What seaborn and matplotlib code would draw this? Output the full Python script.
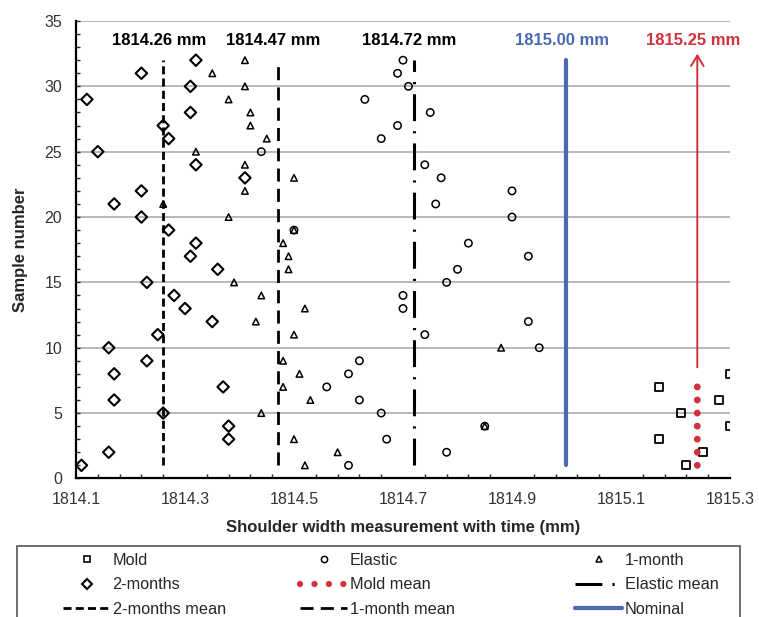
import numpy as np
import pandas as pd
import matplotlib
matplotlib.use("Agg")
import matplotlib.pyplot as plt
import seaborn as sns
from matplotlib.lines import Line2D
from matplotlib.patches import Rectangle
from matplotlib.ticker import FixedLocator, MultipleLocator, FormatStrFormatter

# data
sample_no = [1, 2, 3, 4, 5, 6, 7, 8, 9, 10, 11, 12, 13, 14, 15, 16,
             17, 18, 19, 20, 21, 22, 23, 24, 25, 26, 27, 28, 29, 30, 31, 32]
mold_samples = [1, 2, 3, 4, 5, 6, 7, 8]
mold = [1815.22, 1815.25, 1815.17, 1815.30, 1815.21, 1815.28, 1815.17, 1815.30]
elastic = [1814.60, 1814.78, 1814.67, 1814.85, 1814.66, 1814.62, 1814.56, 1814.60,
           1814.62, 1814.95, 1814.74, 1814.93, 1814.70, 1814.70, 1814.78, 1814.80,
           1814.93, 1814.82, 1814.50, 1814.90, 1814.76, 1814.90, 1814.77, 1814.74,
           1814.44, 1814.66, 1814.69, 1814.75, 1814.63, 1814.71, 1814.69, 1814.70]
one_month = [1814.52, 1814.58, 1814.50, 1814.85, 1814.44, 1814.53, 1814.48, 1814.51,
             1814.48, 1814.88, 1814.50, 1814.43, 1814.52, 1814.44, 1814.39, 1814.49,
             1814.49, 1814.48, 1814.50, 1814.38, 1814.26, 1814.41, 1814.50, 1814.41,
             1814.32, 1814.45, 1814.42, 1814.42, 1814.38, 1814.41, 1814.35, 1814.41]
two_months = [1814.11, 1814.16, 1814.38, 1814.38, 1814.26, 1814.17, 1814.37, 1814.17,
              1814.23, 1814.16, 1814.25, 1814.35, 1814.30, 1814.28, 1814.23, 1814.36,
              1814.31, 1814.32, 1814.27, 1814.22, 1814.17, 1814.22, 1814.41, 1814.32,
              1814.14, 1814.27, 1814.26, 1814.31, 1814.12, 1814.31, 1814.22, 1814.32]

two_months_mean = 1814.26
one_month_mean = 1814.47
elastic_mean = 1814.72
nominal = 1815.00
mold_mean = 1815.24
mold_mean_samples = [1, 2, 3, 4, 5, 6, 7]
line_span = [1, 32]
arrow_span = [8.5, 32.5]

x_ticks = [1814.1, 1814.3, 1814.5, 1814.7, 1814.9, 1815.1, 1815.3]
top_labels = ["1814.26 mm", "1814.47 mm", "1814.72 mm", "1815.00 mm", "1815.25 mm"]
top_label_x = [two_months_mean, one_month_mean, elastic_mean, nominal, mold_mean]

BLUE = "#4b69b3"
RED = "#d2303a"

sns.set_theme(style="white")
plt.rcParams["font.family"] = ["Liberation Sans", "DejaVu Sans"]

fig = plt.figure(figsize=(7.59, 6.17), dpi=100)
W, H = 759, 617
ax = fig.add_axes([76 / W, 1 - 478.4 / H, (730 - 76) / W, (478.4 - 21) / H])

# horizontal grid
ax.set_axisbelow(True)
ax.yaxis.grid(True, color="#a6a6a6", lw=1.1)

# sample points
sns.scatterplot(x=two_months, y=sample_no, marker="D", s=34, color="none",
                edgecolor="black", linewidth=1.5, ax=ax, legend=False, zorder=2)
sns.scatterplot(x=elastic, y=sample_no, marker="o", s=28, color="none",
                edgecolor="black", linewidth=1.1, ax=ax, legend=False, zorder=2)
sns.scatterplot(x=one_month, y=sample_no, marker="^", s=22, color="none",
                edgecolor="black", linewidth=1.1, ax=ax, legend=False, zorder=2)
sns.scatterplot(x=mold, y=mold_samples, marker="s", s=32, color="none",
                edgecolor="black", linewidth=1.3, ax=ax, legend=False, zorder=2)

# mean lines
sns.lineplot(x=[two_months_mean] * 2, y=line_span, estimator=None, sort=False,
             color="black", lw=2.0, linestyle=(0, (2.9, 1.5)), ax=ax, zorder=3)
sns.lineplot(x=[one_month_mean] * 2, y=line_span, estimator=None, sort=False,
             color="black", lw=2.0, linestyle=(0, (4.7, 2.6)), ax=ax, zorder=3)
sns.lineplot(x=[elastic_mean] * 2, y=line_span, estimator=None, sort=False,
             color="black", lw=2.2, linestyle=(0, (8.8, 3.3, 0.7, 3.3)), ax=ax, zorder=3)
sns.lineplot(x=[nominal] * 2, y=line_span, estimator=None, sort=False,
             color=BLUE, lw=3.0, ax=ax, zorder=3)
sns.scatterplot(x=[mold_mean] * len(mold_mean_samples), y=mold_mean_samples,
                marker="o", s=24, color=RED, edgecolor="none", ax=ax, legend=False, zorder=3)

ax.annotate("", xy=(mold_mean, arrow_span[1]), xytext=(mold_mean, arrow_span[0]),
            arrowprops=dict(arrowstyle="->,head_length=0.5,head_width=0.3",
                            color=RED, lw=1.4, mutation_scale=15,
                            shrinkA=0, shrinkB=0))

label_colors = ["black", "black", "black", BLUE, RED]
for xv, txt, c in zip(top_label_x, top_labels, label_colors):
    ax.text(xv - 0.008, 33.5, txt, ha="center", va="center", fontsize=12,
            fontweight="bold", color=c)

# axes
ax.set_xlim(1814.1, 1815.3)
ax.set_ylim(0, 35)
ax.xaxis.set_major_locator(FixedLocator(x_ticks))
ax.xaxis.set_minor_locator(FixedLocator(np.linspace(1814.1, 1815.3, 31)))
ax.xaxis.set_major_formatter(FormatStrFormatter("%.1f"))
ax.yaxis.set_major_locator(MultipleLocator(5))
ax.yaxis.set_minor_locator(MultipleLocator(1))
ax.tick_params(axis="x", which="major", direction="out", length=4.5, width=1.2,
               pad=5, labelsize=11.5, colors="black", labelcolor="#333333")
ax.tick_params(axis="x", which="minor", direction="in", length=3, width=1.0,
               bottom=True)
ax.tick_params(axis="y", which="major", direction="in", length=3, width=1.0,
               pad=10, labelsize=11.5, labelcolor="#333333", left=True)
ax.tick_params(axis="y", which="minor", direction="in", length=3, width=1.0, left=True)
for side in ["top", "right"]:
    ax.spines[side].set_visible(False)
for side in ["left", "bottom"]:
    ax.spines[side].set_color("black")
    ax.spines[side].set_linewidth(1.6)

ax.set_xlabel("Shoulder width measurement with time (mm)", fontsize=12,
              fontweight="bold", labelpad=10)
ax.set_ylabel("Sample number", fontsize=12, fontweight="bold", labelpad=12)

# legend, three columns placed by hand inside one frame
def mk(marker, ms, mew):
    return Line2D([], [], ls="none", marker=marker, ms=ms, mfc="none",
                  mec="black", mew=mew)

cols = [
    (63, [mk("s", 5, 1.2), mk("D", 5, 1.5),
          Line2D([], [], color="black", lw=2.0, ls=(0, (2.9, 1.5)))],
     ["Mold", "2-months", "2-months mean"]),
    (300, [mk("o", 4.5, 1.1),
           Line2D([], [], color=RED, lw=4.5, ls=(0, (0.01, 2.3)), dash_capstyle="round"),
           Line2D([], [], color="black", lw=2.0, ls=(0, (4.7, 2.6)))],
     ["Elastic", "Mold mean", "1-month mean"]),
    (575, [mk("^", 4.5, 1.1),
           Line2D([], [], color="black", lw=2.2, ls=(0, (8.8, 3.3, 0.7, 3.3))),
           Line2D([], [], color=BLUE, lw=3.0)],
     ["1-month", "Elastic mean", "Nominal"]),
]
for x0, handles, labels in cols:
    fig.legend(handles, labels, loc="upper left", bbox_to_anchor=(x0 / W, 1 - 553 / H),
               frameon=False, fontsize=11.7, handlelength=2.9, handletextpad=0.15,
               labelspacing=0.58, borderpad=0, borderaxespad=0)

fig.add_artist(Rectangle((17 / W, 1 - 640 / H), (740 - 17) / W, (640 - 546) / H,
                         transform=fig.transFigure, fill=False, ec="#555555", lw=1.2))

fig.savefig("out.png", dpi=100)
